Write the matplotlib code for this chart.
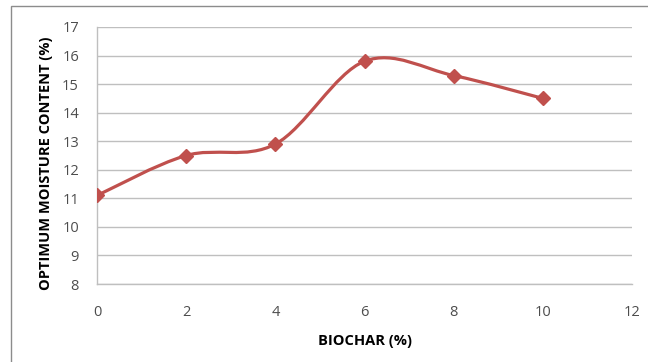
import numpy as np
import matplotlib
matplotlib.use("Agg")
import matplotlib.pyplot as plt
from matplotlib.path import Path
from matplotlib.patches import PathPatch, Rectangle

# data
biochar = [0, 2, 4, 6, 8, 10]
moisture = [11.1, 12.5, 12.9, 15.8, 15.3, 14.5]
x_ticks = [0, 2, 4, 6, 8, 10, 12]
y_ticks = [8, 9, 10, 11, 12, 13, 14, 15, 16, 17]

red = "#C0504D"
plt.rcParams['font.family'] = ['Open Sans', 'DejaVu Sans']

fig = plt.figure(figsize=(6.48, 3.62), dpi=100)
ax = fig.add_axes([97 / 648, 1 - 284 / 362, (632 - 97) / 648, (284 - 27) / 362])

# excel style smoothed line: bezier segments through the points
xs = np.array(biochar, dtype=float)
ys = np.array(moisture, dtype=float)
verts = [(xs[0], ys[0])]
codes = [Path.MOVETO]
n = len(xs)
for i in range(n - 1):
    p0 = (xs[max(i - 1, 0)], ys[max(i - 1, 0)])
    p1 = (xs[i], ys[i])
    p2 = (xs[i + 1], ys[i + 1])
    p3 = (xs[min(i + 2, n - 1)], ys[min(i + 2, n - 1)])
    c1 = (p1[0] + (p2[0] - p0[0]) / 6, p1[1] + (p2[1] - p0[1]) / 6)
    c2 = (p2[0] - (p3[0] - p1[0]) / 6, p2[1] - (p3[1] - p1[1]) / 6)
    verts += [c1, c2, p2]
    codes += [Path.CURVE4] * 3
ax.add_patch(PathPatch(Path(verts, codes), facecolor="none", edgecolor=red,
                       lw=2.3, zorder=3, capstyle="round"))
ax.plot(biochar, moisture, linestyle="none", marker="D", ms=7.5,
        color=red, zorder=4)

ax.set_xlim(0, 12)
ax.set_ylim(8, 17)
ax.set_xticks(x_ticks)
ax.set_yticks(y_ticks)
ax.grid(axis="y", color="#BFBFBF", lw=1)
ax.set_axisbelow(True)
for s in ["top", "right"]:
    ax.spines[s].set_visible(False)
for s in ["left", "bottom"]:
    ax.spines[s].set_color("#BFBFBF")
    ax.spines[s].set_linewidth(1)
ax.tick_params(length=0, labelsize=10.5, colors="#4D4D4D")
ax.tick_params(axis="x", pad=15)
ax.tick_params(axis="y", pad=13)

ax.set_xlabel("BIOCHAR (%)", fontsize=10.5, fontweight="bold", labelpad=10)
ax.set_ylabel("OPTIMUM MOISTURE CONTENT (%)", fontsize=10.5, fontweight="bold")
ax.yaxis.set_label_coords(-0.082, 0.47)

# chart frame
fig.patches.append(Rectangle((11 / 648, -0.1), 1.2, 1 - 6 / 362 + 0.1,
                             transform=fig.transFigure, fill=False,
                             edgecolor="#8C8C8C", lw=1))

fig.savefig("out.png", dpi=100)
